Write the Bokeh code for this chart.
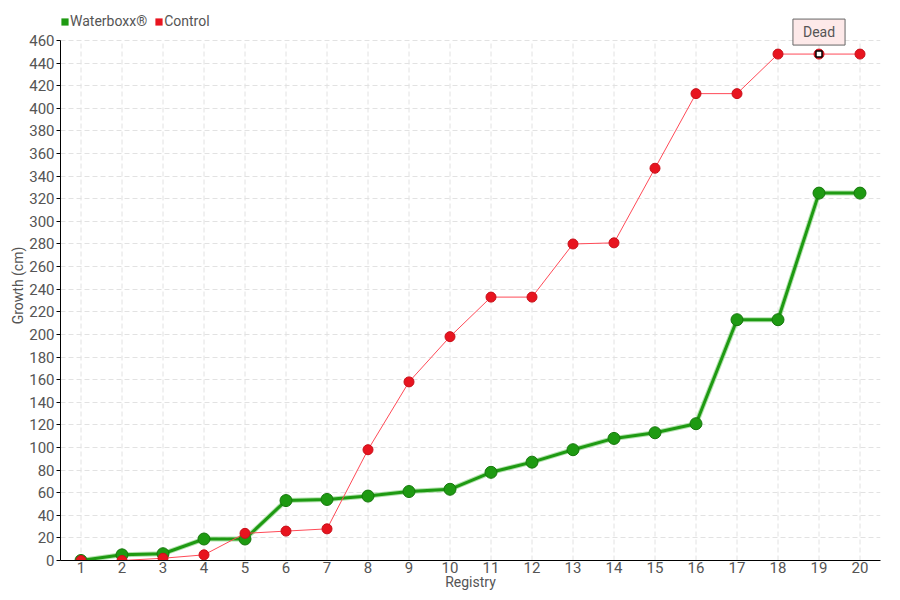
from bokeh.plotting import figure
from bokeh.models import (Legend, LegendItem, FixedTicker, Range1d, Label,
                          ColumnDataSource)
from bokeh.embed import file_html
from bokeh.resources import INLINE

# ---- data ----
registry = list(range(1, 21))
registry_labels = [str(r) for r in registry]
waterboxx = [0, 5, 6, 19, 19, 53, 54, 57, 61, 63, 78, 87, 98, 108, 113, 121, 213, 213, 325, 325]
control = [0, 0, 2, 5, 24, 26, 28, 98, 158, 198, 233, 233, 280, 281, 347, 413, 413, 448, 448, 448]
y_ticks = list(range(0, 461, 20))
dead_index = 18  # registry 19 of control
dead_text = "Dead"
series_names = ["Waterboxx®", "Control"]

FONT = "Roboto"
TXT = "#555555"
GREEN = "#1e9a12"
GREEN_DARK = "#16780c"
RED = "#e8141f"
RED_LINE = "#ff4a57"
GRID = "#e2e2e2"

# layout: plot area 820 x 520 px, with 30 px of headroom above for legend/callout
AXIS_H = 520
HEAD = 30
y_lo, y_hi = y_ticks[0], y_ticks[-1]
y_top = y_hi + (y_hi - y_lo) * HEAD / AXIS_H
x_lo, x_hi = registry[0] - 0.5, registry[-1] + 0.5

p = figure(frame_width=820, frame_height=AXIS_H + HEAD, output_backend="svg",
           toolbar_location=None,
           x_range=Range1d(x_lo, x_hi), y_range=Range1d(y_lo, y_top),
           min_border_left=60, min_border_right=20, min_border_top=10,
           min_border_bottom=38)
p.outline_line_color = None
p.background_fill_color = "white"

# grids: horizontal via Grid, vertical drawn only up to the top tick
p.ygrid.grid_line_color = GRID
p.ygrid.grid_line_dash = "5 3"
p.xgrid.visible = False
p.segment(x0=registry, y0=[y_lo] * len(registry), x1=registry, y1=[y_hi] * len(registry),
          line_color=GRID, line_dash="5 3", line_width=1, level="underlay")

# axes
p.xaxis.ticker = FixedTicker(ticks=registry)
p.xaxis.major_label_overrides = {r: l for r, l in zip(registry, registry_labels)}
p.xaxis.bounds = (x_lo, x_hi)
p.yaxis.ticker = FixedTicker(ticks=y_ticks)
p.yaxis.bounds = (y_lo, y_hi)
for ax in (p.xaxis[0], p.yaxis[0]):
    ax.axis_line_color = "black"
    ax.axis_line_width = 1
    ax.minor_tick_line_color = None
    ax.major_label_text_font = FONT
    ax.major_label_text_font_size = "15px"
    ax.major_label_text_color = TXT
    ax.axis_label_text_font = FONT
    ax.axis_label_text_font_size = "14px"
    ax.axis_label_text_font_style = "normal"
    ax.axis_label_text_color = TXT
p.xaxis.major_tick_line_color = None
p.xaxis.major_tick_out = 0
p.xaxis.major_label_standoff = 1
p.xaxis.axis_label = "Registry"
p.xaxis.axis_label_standoff = -2
p.yaxis.major_tick_line_color = "black"
p.yaxis.major_tick_out = 4
p.yaxis.major_tick_in = 0
p.yaxis.major_label_standoff = 2
p.yaxis.axis_label = "Growth (cm)"
p.yaxis.axis_label_standoff = 0

src = ColumnDataSource(dict(x=registry, w=waterboxx, c=control))

# Waterboxx series (with soft shadow)
p.line("x", "w", source=src, line_color="#7fcf77", line_width=5, line_alpha=0.6)
p.line("x", "w", source=src, line_color=GREEN, line_width=3)
p.scatter("x", "w", source=src, size=12, fill_color=GREEN, line_color=GREEN_DARK, line_width=1)

# Control series
p.line("x", "c", source=src, line_color=RED_LINE, line_width=1)
p.scatter("x", "c", source=src, size=10, fill_color=RED, line_color="#c8101a", line_width=1)

# dead marker
p.scatter([registry[dead_index]], [control[dead_index]], marker="square", size=6,
          fill_color="white", line_color="black", line_width=1.5)

# callout
lab = Label(x=registry[dead_index], y=control[dead_index], text=dead_text,
            x_offset=0, y_offset=9, text_align="center", text_baseline="bottom",
            text_font=FONT, text_font_size="14px", text_color=TXT,
            background_fill_color="#fde9e9", border_line_color="#666666",
            border_line_width=1, padding=(10, 5))
p.add_layout(lab)

# legend swatches: zero-size rects on the series (invisible on the plot,
# but drawn as filled squares in the legend)
sw_w = p.rect("x", "w", source=src, width=0, height=0, fill_color=GREEN, line_color=None)
sw_c = p.rect("x", "c", source=src, width=0, height=0, fill_color=RED, line_color=None)
legend = Legend(items=[LegendItem(label=series_names[0], renderers=[sw_w]),
                       LegendItem(label=series_names[1], renderers=[sw_c])],
                orientation="horizontal", location=(0, AXIS_H + 11),
                label_text_font=FONT, label_text_font_size="14px",
                label_text_color=TXT, glyph_width=9, glyph_height=9,
                label_standoff=1, spacing=7, padding=0, margin=0,
                border_line_color=None, background_fill_alpha=0,
                label_height=9)
p.add_layout(legend, "center")

html = file_html(p, INLINE)
open("out.html", "w").write(html)
